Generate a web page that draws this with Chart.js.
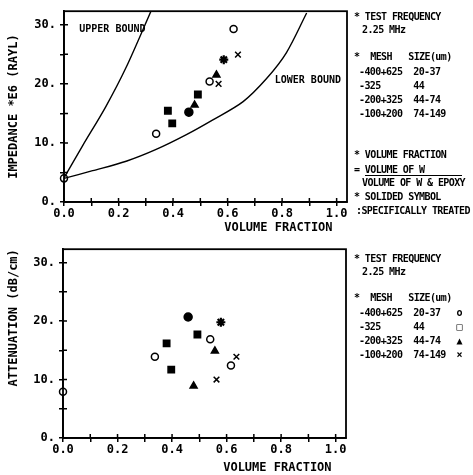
<!DOCTYPE html>
<html>
<head>
<meta charset="utf-8">
<script src="https://cdn.jsdelivr.net/npm/chart.js@4"></script>
<style>
  body { margin: 0; background: #fff; }
  #wrap { position: relative; width: 473px; height: 475px; overflow: hidden; }
  canvas { position: absolute; left: 0; }
  .lg { position: absolute; font: bold 10px 'DejaVu Sans Mono', monospace; letter-spacing: -0.6px;
        line-height: 12px; white-space: pre; color: #000; }
  .frac { border-bottom: 1.5px solid #000; }
</style>
</head>
<body>
<div id="wrap">
  <canvas id="top" width="473" height="238" style="top:0"></canvas>
  <canvas id="bottom" width="473" height="237" style="top:238px"></canvas>

  <div class="lg" style="left:354px;top:11px">* TEST FREQUENCY</div>
  <div class="lg" style="left:362px;top:24px">2.25 MHz</div>
  <div class="lg" style="left:354px;top:51px">*  MESH   SIZE(um)</div>
  <div class="lg" style="left:359px;top:66px">-400+625  20-37</div>
  <div class="lg" style="left:359px;top:80px">-325      44</div>
  <div class="lg" style="left:359px;top:94px">-200+325  44-74</div>
  <div class="lg" style="left:359px;top:108px">-100+200  74-149</div>
  <div class="lg" style="left:354px;top:149px">* VOLUME FRACTION</div>
  <div class="lg" style="left:354px;top:164px">= <span class="frac">VOLUME OF W       </span></div>
  <div class="lg" style="left:362px;top:177px">VOLUME OF W &amp; EPOXY</div>
  <div class="lg" style="left:354px;top:191px">* SOLIDED SYMBOL</div>
  <div class="lg" style="left:356px;top:205px">:SPECIFICALLY TREATED</div>

  <div class="lg" style="left:354px;top:253px">* TEST FREQUENCY</div>
  <div class="lg" style="left:362px;top:266px">2.25 MHz</div>
  <div class="lg" style="left:354px;top:292px">*  MESH   SIZE(um)</div>
  <div class="lg" style="left:359px;top:307px">-400+625  20-37   o</div>
  <div class="lg" style="left:359px;top:321px">-325      44      &#9633;</div>
  <div class="lg" style="left:359px;top:335px">-200+325  44-74   &#9650;</div>
  <div class="lg" style="left:359px;top:349px">-100+200  74-149  &#215;</div>
</div>
<script>
// axis ticks
const xTickValues = [0, 0.1, 0.2, 0.3, 0.4, 0.5, 0.6, 0.7, 0.8, 0.9, 1.0];
const yTickValues = [0, 5, 10, 15, 20, 25, 30];

// bounds for impedance (MRayl) vs volume fraction
const upperBoundX = [0, 0.068, 0.154, 0.228, 0.32];
const upperBoundY = [4.1, 9.5, 16.2, 22.8, 32.4];
const lowerBoundX = [0, 0.105, 0.228, 0.338, 0.449, 0.546, 0.657, 0.743, 0.816, 0.89];
const lowerBoundY = [4.0, 5.3, 6.9, 8.9, 11.4, 13.9, 17.0, 20.9, 25.3, 32.0];

// impedance measurements
const impMesh400X = [0, 0.338, 0.534, 0.622];
const impMesh400Y = [4.0, 11.55, 20.4, 29.3];
const impMesh400TX = [0.458];
const impMesh400TY = [15.2];
const impMesh325TX = [0.381, 0.397, 0.491];
const impMesh325TY = [15.45, 13.3, 18.2];
const impMesh200X = [0.479, 0.559];
const impMesh200Y = [16.4, 21.5];
const impMesh100X = [0.567, 0.638];
const impMesh100Y = [20.0, 24.95];
const impMesh100TX = [0.586];
const impMesh100TY = [24.1];

// attenuation measurements
const attMesh400X = [0, 0.337, 0.54, 0.616];
const attMesh400Y = [7.9, 13.9, 16.9, 12.4];
const attMesh400TX = [0.459];
const attMesh400TY = [20.7];
const attMesh325TX = [0.38, 0.397, 0.493];
const attMesh325TY = [16.2, 11.7, 17.7];
const attMesh200X = [0.479, 0.557];
const attMesh200Y = [8.9, 14.9];
const attMesh100X = [0.563, 0.636];
const attMesh100Y = [10.0, 13.9];
const attMesh100TX = [0.579];
const attMesh100TY = [19.8];

const xMax = 1.038;
const yMax = 32.3;

const pts = (xs, ys) => xs.map((x, i) => ({ x: x, y: ys[i] }));
const tickFont = { family: "'DejaVu Sans Mono', monospace", size: 12, weight: 'bold' };
const titleFont = { family: "'DejaVu Sans Mono', monospace", size: 12, weight: 'bold' };

// frame + inner half of the crossing tick marks
const frameTicks = {
  id: 'frameTicks',
  afterDatasetsDraw(chart) {
    const { ctx, chartArea: a, scales: { x, y } } = chart;
    ctx.save();
    ctx.strokeStyle = '#000';
    ctx.lineWidth = 1.8;
    ctx.strokeRect(a.left, a.top, a.right - a.left, a.bottom - a.top);
    ctx.lineWidth = 1.5;
    ctx.beginPath();
    x.ticks.forEach(t => {
      const px = x.getPixelForValue(t.value);
      ctx.moveTo(px, a.bottom);
      ctx.lineTo(px, a.bottom - 4);
    });
    y.ticks.forEach(t => {
      const py = y.getPixelForValue(t.value);
      ctx.moveTo(a.left, py);
      ctx.lineTo(a.left + 4, py);
    });
    ctx.stroke();
    ctx.restore();
  }
};

const boundLabels = {
  id: 'boundLabels',
  afterDatasetsDraw(chart, args, opts) {
    if (!opts.items) return;
    const { ctx, scales: { x, y } } = chart;
    ctx.save();
    ctx.fillStyle = '#000';
    ctx.font = "bold 10px 'DejaVu Sans Mono', monospace";
    ctx.textBaseline = 'middle';
    opts.items.forEach(it => {
      ctx.fillText(it.text, x.getPixelForValue(it.x), y.getPixelForValue(it.y));
    });
    ctx.restore();
  }
};

function scatterSet(data, style) {
  return Object.assign({
    data: data, showLine: false, clip: false,
    borderColor: '#000', backgroundColor: '#000', pointBorderWidth: 1.5
  }, style);
}

function boundSet(data) {
  return { data: data, showLine: true, pointRadius: 0, borderColor: '#000', borderWidth: 1.4, tension: 0.3 };
}

const openCircle = { pointStyle: 'circle', pointRadius: 3.5, backgroundColor: '#fff' };
const solidCircle = { pointStyle: 'circle', pointRadius: 4 };
const solidSquare = { pointStyle: 'rect', pointRadius: 4.5 };
const triangle = { pointStyle: 'triangle', pointRadius: 4 };
const cross = { pointStyle: 'crossRot', pointRadius: 4 };
const solidCross = { pointStyle: 'star', pointRadius: 4.5, pointBorderWidth: 2.2 };

function makeOptions(cfg) {
  return {
    responsive: false,
    animation: false,
    layout: { padding: { top: cfg.top, right: cfg.right, left: 0, bottom: 0 } },
    plugins: {
      legend: { display: false },
      tooltip: { enabled: false },
      boundLabels: { items: cfg.labels }
    },
    scales: {
      x: {
        type: 'linear', min: 0, max: xMax,
        afterBuildTicks: s => { s.ticks = xTickValues.map(v => ({ value: v })); },
        afterFit: s => { s.height = cfg.xHeight; },
        ticks: {
          autoSkip: false, maxRotation: 0, padding: 1, color: '#000', font: tickFont,
          callback: v => Math.round(v * 10) % 2 === 0 ? v.toFixed(1) : ''
        },
        grid: { drawOnChartArea: false, tickLength: 4, color: '#000', lineWidth: 1.5 },
        border: { color: '#000', width: 1.8 },
        title: { display: true, text: 'VOLUME FRACTION  ', align: 'end', color: '#000',
                 font: titleFont, padding: { top: 0, bottom: cfg.xTitlePad } }
      },
      y: {
        type: 'linear', min: 0, max: yMax,
        afterBuildTicks: s => { s.ticks = yTickValues.map(v => ({ value: v })); },
        afterFit: s => { s.width = cfg.yWidth; },
        ticks: {
          autoSkip: false, padding: 4, color: '#000', font: tickFont,
          callback: v => v % 10 === 0 ? v + '.' : ''
        },
        grid: { drawOnChartArea: false, tickLength: 4, color: '#000', lineWidth: 1.5 },
        border: { color: '#000', width: 1.8 },
        title: { display: true, text: cfg.yTitle, align: cfg.yAlign, color: '#000',
                 font: titleFont, padding: { top: 7, bottom: 0 } }
      }
    }
  };
}

new Chart(document.getElementById('top'), {
  type: 'scatter',
  data: {
    datasets: [
      boundSet(pts(upperBoundX, upperBoundY)),
      boundSet(pts(lowerBoundX, lowerBoundY)),
      scatterSet(pts(impMesh400X, impMesh400Y), openCircle),
      scatterSet(pts(impMesh400TX, impMesh400TY), solidCircle),
      scatterSet(pts(impMesh325TX, impMesh325TY), solidSquare),
      scatterSet(pts(impMesh200X, impMesh200Y), triangle),
      scatterSet(pts(impMesh100X, impMesh100Y), cross),
      scatterSet(pts(impMesh100TX, impMesh100TY), solidCross)
    ]
  },
  options: makeOptions({
    top: 8, right: 126, xHeight: 36, yWidth: 64, xTitlePad: 3,
    yTitle: 'IMPEDANCE *E6 (RAYL)', yAlign: 'center',
    labels: [
      { text: 'UPPER BOUND', x: 0.056, y: 29.3 },
      { text: 'LOWER BOUND', x: 0.773, y: 20.5 }
    ]
  }),
  plugins: [frameTicks, boundLabels]
});

new Chart(document.getElementById('bottom'), {
  type: 'scatter',
  data: {
    datasets: [
      scatterSet(pts(attMesh400X, attMesh400Y), openCircle),
      scatterSet(pts(attMesh400TX, attMesh400TY), solidCircle),
      scatterSet(pts(attMesh325TX, attMesh325TY), solidSquare),
      scatterSet(pts(attMesh200X, attMesh200Y), triangle),
      scatterSet(pts(attMesh100X, attMesh100Y), cross),
      scatterSet(pts(attMesh100TX, attMesh100TY), solidCross)
    ]
  },
  options: makeOptions({
    top: 7, right: 127, xHeight: 37, yWidth: 63, xTitlePad: 0,
    yTitle: 'ATTENUATION (dB/cm)', yAlign: 'end',
    labels: []
  }),
  plugins: [frameTicks, boundLabels]
});
</script>
</body>
</html>
